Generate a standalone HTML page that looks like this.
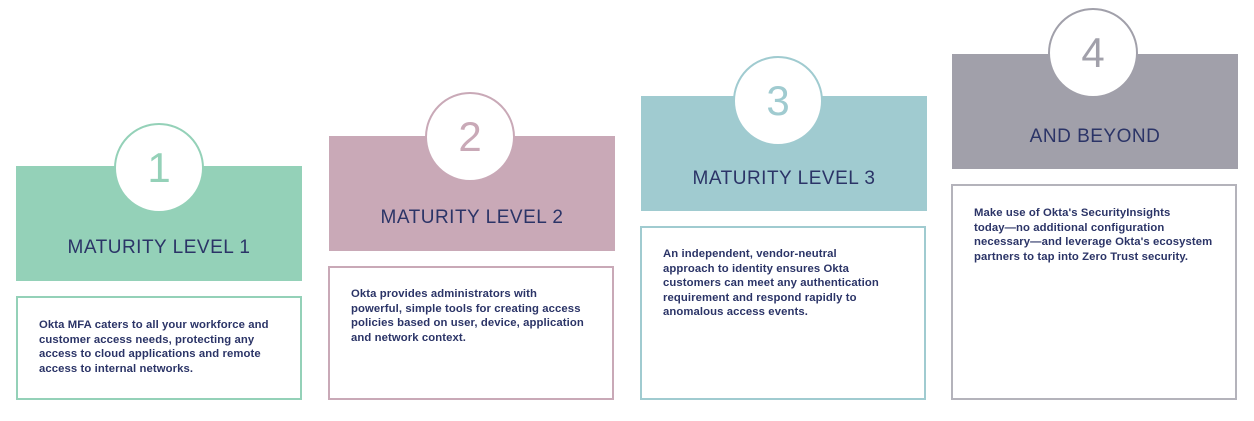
<!DOCTYPE html>
<html><head><style>
body{margin:0;width:1254px;height:421px;background:#fff;position:relative;overflow:hidden;font-family:"Liberation Sans",sans-serif;color:#2b3467}
.h{position:absolute;width:286px;height:115px}
.t{position:absolute;width:286px;text-align:center;font-size:19px;letter-spacing:0.5px}
.c{position:absolute;width:86px;height:86px;border-radius:50%;background:#fff;border:2px solid;text-align:center;line-height:86px;font-size:42px}
.b{position:absolute;width:282px;border:2px solid;box-sizing:border-box;width:286px}
.p{position:absolute;font-size:11.3px;line-height:14.5px;font-weight:bold;letter-spacing:0.1px}
</style></head><body>
<div class="h" style="left:16px;top:166px;background:#94d1b8"></div>
<div class="c" style="left:114px;top:123px;border-color:#94d1b8;color:#94d1b8">1</div>
<div class="t" style="left:16px;top:237px">MATURITY LEVEL 1</div>
<div class="b" style="left:16px;top:296px;height:104px;border-color:#94d1b8"></div>
<div class="p" style="left:39px;top:318px">Okta MFA caters to all your workforce and<br>customer access needs, protecting any<br>access to cloud applications and remote<br>access to internal networks.</div>

<div class="h" style="left:329px;top:136px;background:#c9a9b7"></div>
<div class="c" style="left:425px;top:92px;border-color:#c9a9b7;color:#c9a9b7">2</div>
<div class="t" style="left:329px;top:207px">MATURITY LEVEL 2</div>
<div class="b" style="left:328px;top:266px;height:134px;border-color:#c9a9b7"></div>
<div class="p" style="left:351px;top:287px">Okta provides administrators with<br>powerful, simple tools for creating access<br>policies based on user, device, application<br>and network context.</div>

<div class="h" style="left:641px;top:96px;background:#a0cbd0"></div>
<div class="c" style="left:733px;top:56px;border-color:#a0cbd0;color:#a0cbd0">3</div>
<div class="t" style="left:641px;top:168px">MATURITY LEVEL 3</div>
<div class="b" style="left:640px;top:226px;height:174px;border-color:#a0cbd0"></div>
<div class="p" style="left:663px;top:247px">An independent, vendor-neutral<br>approach to identity ensures Okta<br>customers can meet any authentication<br>requirement and respond rapidly to<br>anomalous access events.</div>

<div class="h" style="left:952px;top:54px;background:#a1a0aa"></div>
<div class="c" style="left:1048px;top:8px;border-color:#a1a0aa;color:#a1a0aa">4</div>
<div class="t" style="left:952px;top:126px">AND BEYOND</div>
<div class="b" style="left:951px;top:184px;height:216px;border-color:#b4b3bb"></div>
<div class="p" style="left:974px;top:206px">Make use of Okta's SecurityInsights<br>today—no additional configuration<br>necessary—and leverage Okta's ecosystem<br>partners to tap into Zero Trust security.</div>
</body></html>
